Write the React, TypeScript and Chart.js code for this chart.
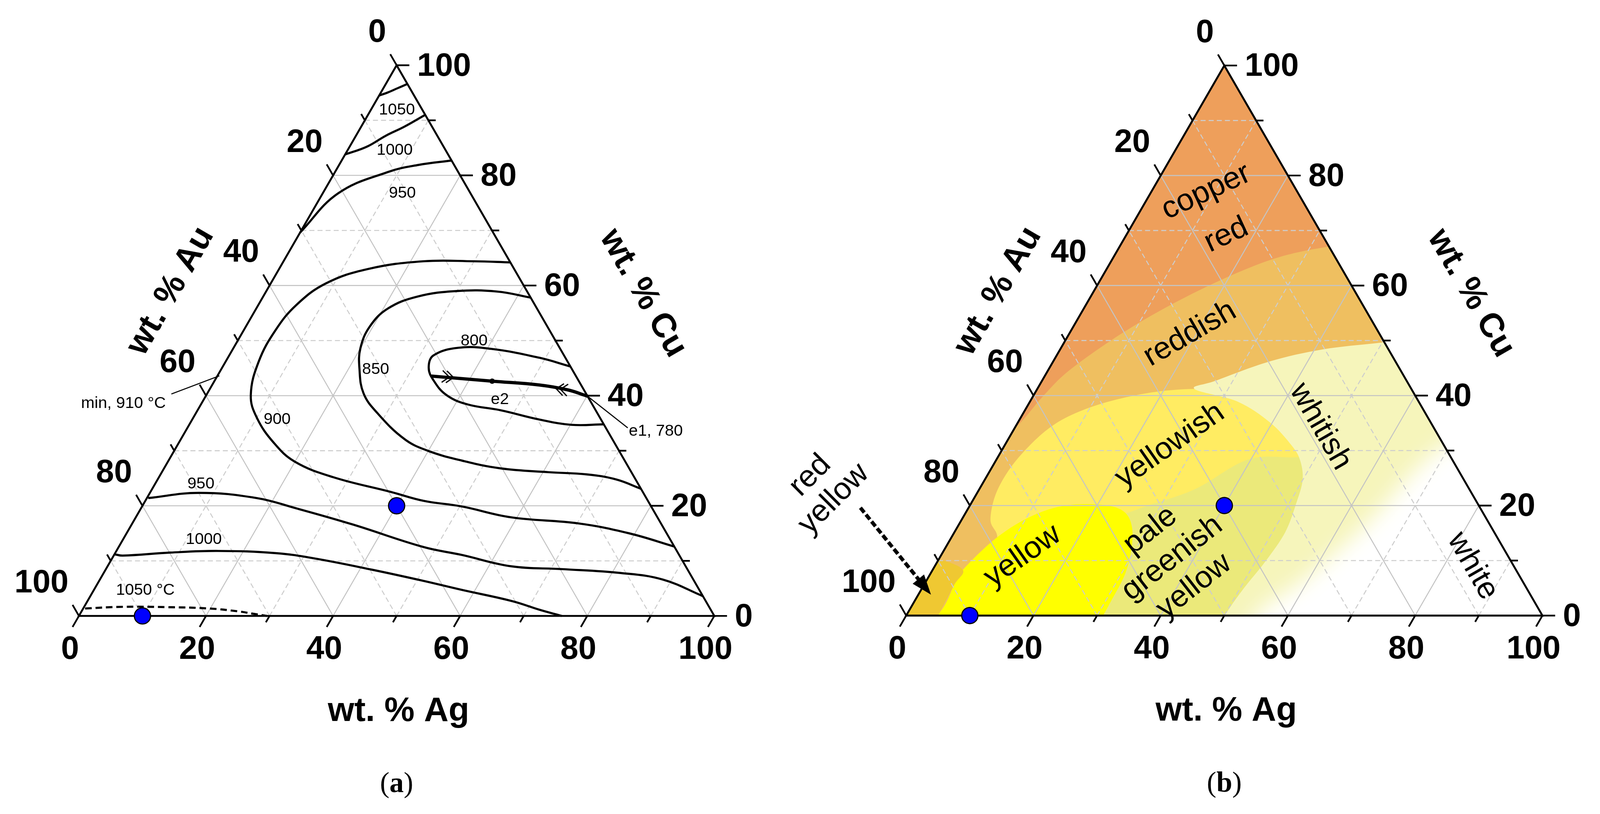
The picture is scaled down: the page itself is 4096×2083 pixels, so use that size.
import React, { useEffect, useRef } from "react";
import { Chart, registerables } from "chart.js";

Chart.register(...registerables);

type P2 = [number, number];
type Geom = { Lx: number; Ly: number; side: number; ox: number; w: number };

const S = 0.987;
const PAGE_W = 4096;
const PAGE_H = 2083;
const A_LEFT = 0;
const A_W = 2048;
const B_LEFT = 1800;
const B_W = PAGE_W - B_LEFT;
const SQ = Math.sqrt(3) / 2;
const SANS = '"Liberation Sans", Arial, Helvetica, sans-serif';
const SERIF = '"Liberation Serif", "Times New Roman", Times, serif';

// ---------- axes ----------
const TICK_STEPS = [0, 10, 20, 30, 40, 50, 60, 70, 80, 90, 100];
const TICK_LABELS = [0, 20, 40, 60, 80, 100];
const TITLE_AG = "wt. % Ag";
const TITLE_AU = "wt. % Au";
const TITLE_CU = "wt. % Cu";

// ---------- panel (a): liquidus isotherms, points as [wt.% Ag, wt.% Cu] ----------
const ISO_1050_CU: P2[] = [[0, 94.5], [1.0, 95.0], [2.2, 95.8], [3.4, 96.6]];
const ISO_1000_CU: P2[] = [[0, 83.8], [2.7, 85.2], [4.7, 87.2], [6.8, 88.85], [9.0, 91.0]];
const ISO_950_CU: P2[] = [[0, 69.6], [2.4, 76.7], [8.3, 80.6], [12.5, 81.9], [17.3, 82.7]];
const ISO_900: P2[] = [
  [35.8, 64.2], [30, 64.4], [22, 64.4], [14, 63.0], [8.7, 60.4], [6.0, 56.5], [5.0, 51.9],
  [5.2, 46.2], [7.0, 40.1], [10.0, 36.0], [15.0, 31.4], [20.0, 28.0], [27.4, 25.2],
  [37.9, 22.5], [43.8, 20.9], [50.2, 19.9], [59.1, 17.9], [70.2, 16.8], [79.1, 15.0], [87.4, 12.6],
];
const ISO_850: P2[] = [
  [42.2, 57.8], [36.4, 58.9], [30.0, 59.0], [24.3, 58.0], [20.7, 55.8], [19.5, 52.5], [20.0, 48.6],
  [21.7, 44.9], [24.6, 40.4], [28.6, 36.8], [35.2, 32.1], [39.9, 30.0], [46.2, 28.2], [52.95, 26.8],
  [60.9, 26.1], [67.1, 25.7], [72.1, 24.8], [76.9, 23.1],
];
const ISO_800: P2[] = [
  [54.7, 45.3], [48.95, 46.9], [40.6, 48.5], [35.4, 48.7], [32.15, 47.3], [32.5, 45.1], [34.4, 42.8],
  [37.8, 40.1], [42.0, 38.4], [47.7, 37.35], [54.5, 35.7], [60.2, 34.7], [65.2, 34.8],
];
const ISO_950_AG: P2[] = [
  [0.2, 21.4], [7.7, 22.35], [17.3, 21.4], [24.2, 19.6], [34.8, 16.6], [48.0, 12.5], [54.6, 11.1],
  [63.6, 9.0], [71.8, 8.5], [81.35, 7.8], [88.6, 6.6], [96.4, 3.6],
];
const ISO_1000_AG: P2[] = [
  [0, 11.2], [1.4, 10.95], [8.6, 11.5], [16.0, 11.8], [25.3, 11.4], [31.8, 10.45], [41.9, 8.4],
  [51.1, 6.35], [57.8, 4.75], [66.8, 2.7], [72.0, 1.1], [76.0, 0],
];
const ISO_1050_AU: P2[] = [[0.3, 1.35], [6.0, 1.65], [13.0, 1.6], [19.8, 1.35], [24.5, 0.85], [27.5, 0.35], [29.6, 0]];
const EUTECTIC_VALLEY: P2[] = [[33.7, 43.55], [43.72, 42.63], [51.47, 41.94], [56.47, 41.03], [60.1, 39.9]];
const E2_POINT: P2[] = [[43.72, 42.63]];
const ALLOYS: P2[] = [[40, 20], [10, 0]];

const ISO_LABELS_A = [
  { text: "1050", ag: 4.0, cu: 92.1 },
  { text: "1000", ag: 7.3, cu: 84.8 },
  { text: "950", ag: 12.4, cu: 77.0 },
  { text: "800", ag: 37.1, cu: 50.2 },
  { text: "850", ag: 24.2, cu: 45.0 },
  { text: "900", ag: 13.25, cu: 35.9 },
  { text: "950", ag: 7.1, cu: 24.2 },
  { text: "1000", ag: 12.6, cu: 14.1 },
  { text: "1050 °C", ag: 8.0, cu: 4.9 },
  { text: "e2", ag: 46.5, cu: 39.5 },
  { text: "e1, 780", ag: 73.9, cu: 33.8 },
  { text: "min, 910 °C", ag: -12.4, cu: 38.8 },
];
const LEADERS_A: P2[][] = [
  [[-5.6, 40.3], [0.3, 43.6]],
  [[60.1, 39.9], [69.3, 34.15]],
];
const CHEVRONS_A = [
  { ag: 37.3, cu: 43.3, toward: [43.72, 42.63] as P2 },
  { ag: 54.5, cu: 41.25, toward: [43.72, 42.63] as P2 },
];

// ---------- panel (b): colour fields, points as [wt.% Ag, wt.% Cu] ----------
const FIELD_BASE = "#EFBF60";
const FIELDS_B = [
  {
    name: "copper red", color: "#EE9F5B",
    curve: [[-4, 28], [0, 34], [1.6, 40], [3.6, 45], [9.2, 52.4], [16.7, 59.3], [25, 64.7], [32.9, 67.1], [40, 68]] as P2[],
    close: [[15, 120], [-30, 120]] as P2[], blur: 0,
  },
  {
    name: "yellowish", color: "#FFEC62",
    curve: [[40, 40], [24.7, 41.2], [14.1, 39.5], [6.7, 35.6], [3.5, 29.5], [2.9, 23.2], [4.5, 17.5], [7.2, 14.25], [9, 9], [12, -6]] as P2[],
    close: [[62, -6], [62, 36]] as P2[], blur: 0,
  },
  {
    name: "pale greenish yellow", color: "#EBE97A",
    curve: [[52, 30], [47.3, 28.8], [39.6, 28.4], [33.8, 22.9], [27, 19.5], [21, 16]] as P2[],
    close: [[21, -6], [60, -6], [60, 30]] as P2[], blur: 0,
  },
  {
    name: "yellow", color: "#FFFF00",
    curve: [[2.5, -6], [5.0, 0.5], [4.76, 5.55], [4.75, 8.3], [7.2, 14.25], [11, 18.3], [16, 20.15], [23.3, 19.6], [27.5, 16.0], [30.4, 8.7], [30.9, 2], [31, -6]] as P2[],
    close: [] as P2[], blur: 0,
  },
  {
    name: "red yellow", color: "#EFC832",
    curve: [[5.6, -6], [5.0, 0.5], [4.76, 5.55], [4.75, 8.3], [0, 10.2], [-6, 11]] as P2[],
    close: [[-6, -6]] as P2[], blur: 0,
  },
  {
    name: "whitish", color: "#F6F5BB",
    curve: [[56, 50.6], [50.3, 49.7], [41.3, 48.4], [34, 46.2], [27.3, 42.7], [24.7, 41.2], [32.65, 38.9], [39.65, 35.1], [45.15, 30.9], [47.9, 28.1], [50, 24.6], [51.1, 20.4], [52, 15.15], [51.55, 9.9], [50.6, 5], [50.1, 0.5], [50, -6]] as P2[],
    close: [[115, -6], [62, 52]] as P2[], blur: 0,
  },
  {
    name: "white", color: "#FFFFFF",
    curve: [[74, 34], [69.1, 30.9], [66.5, 25.6], [64.1, 16.9], [59.1, 6.4], [55.1, 0.8], [54.5, -8]] as P2[],
    close: [[120, -8], [85, 40]] as P2[], blur: 28,
  },
];
const COLOR_LABELS_B = [
  { lines: ["copper", "red"], ag: 12.1, cu: 73.2, rot: -25, lh: 124 },
  { lines: ["reddish"], ag: 18.9, cu: 51.3, rot: -30, lh: 0 },
  { lines: ["yellowish"], ag: 25.9, cu: 31.0, rot: -35, lh: 0 },
  { lines: ["whitish"], ag: 48.0, cu: 34.4, rot: 60, lh: 0 },
  { lines: ["yellow"], ag: 12.8, cu: 10.9, rot: -35, lh: 0 },
  { lines: ["pale", "greenish", "yellow"], ag: 36.5, cu: 10.5, rot: -38, lh: 92 },
  { lines: ["white"], ag: 84.6, cu: 9.05, rot: 60, lh: 0 },
  { lines: ["red", "yellow"], ag: -25, cu: 23.4, rot: -45, lh: 86 },
];
const ARROW_B: P2[] = [[-17.0, 19.6], [2.0, 3.8]];

// ---------- helpers ----------
const toXY = (p: P2) => ({ x: p[0] + p[1] / 2, y: p[1] * SQ });

function makeScales(g: Geom) {
  const lx = g.Lx - g.ox;
  const k = 100 / g.side;
  return {
    x: { type: "linear", display: false, min: -lx * k, max: (g.w / S - lx) * k },
    y: { type: "linear", display: false, min: (g.Ly - PAGE_H / S) * k, max: g.Ly * k },
  };
}

function mapper(chart: any) {
  const xs = chart.scales.x;
  const ys = chart.scales.y;
  return (ag: number, cu: number): P2 => [xs.getPixelForValue(ag + cu / 2), ys.getPixelForValue(cu * SQ)];
}

function smooth(ctx: CanvasRenderingContext2D, pts: P2[]) {
  ctx.moveTo(pts[0][0], pts[0][1]);
  for (let i = 0; i < pts.length - 1; i++) {
    const p0 = pts[Math.max(i - 1, 0)];
    const p1 = pts[i];
    const p2 = pts[i + 1];
    const p3 = pts[Math.min(i + 2, pts.length - 1)];
    ctx.bezierCurveTo(
      p1[0] + (p2[0] - p0[0]) / 6, p1[1] + (p2[1] - p0[1]) / 6,
      p2[0] - (p3[0] - p1[0]) / 6, p2[1] - (p3[1] - p1[1]) / 6,
      p2[0], p2[1]
    );
  }
}

function drawGrid(ctx: CanvasRenderingContext2D, P: (a: number, c: number) => P2) {
  ctx.save();
  for (let v = 10; v < 100; v += 10) {
    const solid = v % 20 === 0;
    ctx.strokeStyle = solid ? "#c4c4c4" : "#cdcdcd";
    ctx.lineWidth = 2.6 * S;
    ctx.setLineDash(solid ? [] : [13 * S, 8 * S]);
    const segs: [P2, P2][] = [
      [P(v, 0), P(v, 100 - v)],
      [P(0, v), P(100 - v, v)],
      [P(100 - v, 0), P(0, 100 - v)],
    ];
    for (const [a, b] of segs) {
      ctx.beginPath();
      ctx.moveTo(a[0], a[1]);
      ctx.lineTo(b[0], b[1]);
      ctx.stroke();
    }
  }
  ctx.restore();
}

function drawFrame(ctx: CanvasRenderingContext2D, P: (a: number, c: number) => P2) {
  ctx.save();
  ctx.setLineDash([]);
  ctx.strokeStyle = "#000";
  ctx.lineWidth = 5 * S;
  ctx.lineJoin = "miter";
  const a = P(0, 0), b = P(100, 0), c = P(0, 100);
  ctx.beginPath();
  ctx.moveTo(a[0], a[1]);
  ctx.lineTo(b[0], b[1]);
  ctx.lineTo(c[0], c[1]);
  ctx.closePath();
  ctx.stroke();
  ctx.lineWidth = 4.5 * S;
  const seg = (p: P2, d: P2) => {
    ctx.beginPath();
    ctx.moveTo(p[0], p[1]);
    ctx.lineTo(p[0] + d[0], p[1] + d[1]);
    ctx.stroke();
  };
  for (const v of TICK_STEPS) {
    const len = (v % 20 === 0 ? 33 : 19) * S;
    seg(P(v, 0), [-0.5 * len, SQ * len]);
    seg(P(100 - v, v), [len, 0]);
    seg(P(0, 100 - v), [-0.5 * len, -SQ * len]);
  }
  ctx.restore();
}

function drawAxisText(ctx: CanvasRenderingContext2D, P: (a: number, c: number) => P2) {
  ctx.save();
  ctx.fillStyle = "#000";
  ctx.textBaseline = "alphabetic";
  const fs = 84 * S;
  ctx.font = `bold ${fs}px ${SANS}`;
  const dy = 0.358 * fs;
  for (const v of TICK_LABELS) {
    const t = String(v);
    let [x, y] = P(v, 0);
    ctx.textAlign = "center";
    ctx.fillText(t, x - 23 * S, y + 81 * S + dy);
    [x, y] = P(100 - v, v);
    ctx.textAlign = "left";
    ctx.fillText(t, x + 53 * S, y - 3 * S + dy);
    [x, y] = P(0, 100 - v);
    ctx.textAlign = "right";
    ctx.fillText(t, x - 27 * S, y - 91 * S + dy);
  }
  const ft = 88 * S;
  ctx.font = `bold ${ft}px ${SANS}`;
  ctx.textAlign = "center";
  const [bx, by] = P(50, 0);
  ctx.fillText(TITLE_AG, bx + 5 * S, by + 272 * S);
  const [lx, ly] = P(0, 50);
  ctx.save();
  ctx.translate(lx + (-0.866 * 222 + 0.5 * 24) * S, ly + (-0.5 * 222 - 0.866 * 24) * S);
  ctx.rotate(-Math.PI / 3);
  ctx.fillText(TITLE_AU, 0, 0.36 * ft);
  ctx.restore();
  const [rx, ry] = P(50, 50);
  ctx.save();
  ctx.translate(rx + (0.866 * 265 + 0.5 * 7.5) * S, ry + (-0.5 * 265 + 0.866 * 7.5) * S);
  ctx.rotate(Math.PI / 3);
  ctx.fillText(TITLE_CU, 0, 0.36 * ft);
  ctx.restore();
  ctx.restore();
}

function drawCaption(ctx: CanvasRenderingContext2D, P: (a: number, c: number) => P2, letter: string) {
  ctx.save();
  const fs = 74 * S;
  const [cx, by] = P(50, 0);
  const y = by + 456.5 * S;
  ctx.fillStyle = "#000";
  ctx.textBaseline = "alphabetic";
  ctx.textAlign = "left";
  const fN = `${fs}px ${SERIF}`;
  const fB = `bold ${fs}px ${SERIF}`;
  ctx.font = fN;
  const wO = ctx.measureText("(").width;
  const wC = ctx.measureText(")").width;
  ctx.font = fB;
  const wL = ctx.measureText(letter).width;
  let x = cx - (wO + wL + wC) / 2;
  ctx.font = fN;
  ctx.fillText("(", x, y);
  x += wO;
  ctx.font = fB;
  ctx.fillText(letter, x, y);
  x += wL;
  ctx.font = fN;
  ctx.fillText(")", x, y);
  ctx.restore();
}

function lineDs(pts: P2[], width: number, dash?: number[]) {
  return {
    data: pts.map(toXY),
    showLine: true,
    borderColor: "#000",
    borderWidth: width * S,
    borderDash: dash ? dash.map((d) => d * S) : [],
    pointRadius: 0,
    pointHoverRadius: 0,
    tension: 0.4,
    fill: false,
  };
}

function dotsDs(pts: P2[], r: number, color: string, bw: number) {
  return {
    data: pts.map(toXY),
    showLine: false,
    pointRadius: r * S,
    pointHoverRadius: r * S,
    pointBackgroundColor: color,
    pointBorderColor: "#000",
    pointBorderWidth: bw * S,
  };
}

// ---------- plugins ----------
const decorA = {
  id: "decorA",
  beforeDatasetsDraw(chart: any) {
    const ctx = chart.ctx as CanvasRenderingContext2D;
    const P = mapper(chart);
    drawGrid(ctx, P);
    drawFrame(ctx, P);
  },
  afterDatasetsDraw(chart: any) {
    const ctx = chart.ctx as CanvasRenderingContext2D;
    const P = mapper(chart);
    ctx.save();
    ctx.fillStyle = "#000";
    const fs = 42 * S;
    ctx.font = `${fs}px ${SANS}`;
    ctx.textAlign = "center";
    ctx.textBaseline = "alphabetic";
    for (const l of ISO_LABELS_A) {
      const [x, y] = P(l.ag, l.cu);
      ctx.fillText(l.text, x, y + 0.358 * fs);
    }
    ctx.strokeStyle = "#000";
    ctx.lineWidth = 2.8 * S;
    for (const ln of LEADERS_A) {
      const a = P(ln[0][0], ln[0][1]);
      const b = P(ln[1][0], ln[1][1]);
      ctx.beginPath();
      ctx.moveTo(a[0], a[1]);
      ctx.lineTo(b[0], b[1]);
      ctx.stroke();
    }
    ctx.lineWidth = 3.2 * S;
    for (const c of CHEVRONS_A) {
      const tip = P(c.ag, c.cu);
      const to = P(c.toward[0], c.toward[1]);
      let dx = to[0] - tip[0], dy = to[1] - tip[1];
      const n = Math.hypot(dx, dy);
      dx /= n; dy /= n;
      for (let k = 0; k < 2; k++) {
        const bx = tip[0] - dx * k * 11 * S, by = tip[1] - dy * k * 11 * S;
        const arm = 24 * S, ang = (40 * Math.PI) / 180;
        const ca = Math.cos(ang), sa = Math.sin(ang);
        const a1: P2 = [bx + (-dx * ca + dy * sa) * arm, by + (-dx * sa - dy * ca) * arm];
        const a2: P2 = [bx + (-dx * ca - dy * sa) * arm, by + (dx * sa - dy * ca) * arm];
        ctx.beginPath();
        ctx.moveTo(a1[0], a1[1]);
        ctx.lineTo(bx, by);
        ctx.lineTo(a2[0], a2[1]);
        ctx.stroke();
      }
    }
    ctx.restore();
    drawAxisText(ctx, P);
    drawCaption(ctx, P, "a");
  },
};

const decorB = {
  id: "decorB",
  beforeDatasetsDraw(chart: any) {
    const ctx = chart.ctx as CanvasRenderingContext2D;
    const P = mapper(chart);
    ctx.save();
    const a = P(0, 0), b = P(100, 0), c = P(0, 100);
    ctx.beginPath();
    ctx.moveTo(a[0], a[1]);
    ctx.lineTo(b[0], b[1]);
    ctx.lineTo(c[0], c[1]);
    ctx.closePath();
    ctx.clip();
    ctx.fillStyle = FIELD_BASE;
    ctx.fillRect(0, 0, chart.width, chart.height);
    for (const f of FIELDS_B) {
      ctx.save();
      if (f.blur) ctx.filter = `blur(${f.blur * S}px)`;
      ctx.beginPath();
      smooth(ctx, f.curve.map(([ag, cu]) => P(ag, cu)));
      for (const [ag, cu] of f.close) {
        const p = P(ag, cu);
        ctx.lineTo(p[0], p[1]);
      }
      ctx.closePath();
      ctx.fillStyle = f.color;
      ctx.fill();
      ctx.restore();
    }
    ctx.restore();
    drawGrid(ctx, P);
    drawFrame(ctx, P);
  },
  afterDatasetsDraw(chart: any) {
    const ctx = chart.ctx as CanvasRenderingContext2D;
    const P = mapper(chart);
    ctx.save();
    ctx.fillStyle = "#000";
    const fs = 80 * S;
    ctx.font = `${fs}px ${SANS}`;
    ctx.textAlign = "center";
    ctx.textBaseline = "alphabetic";
    for (const l of COLOR_LABELS_B) {
      const [x, y] = P(l.ag, l.cu);
      ctx.save();
      ctx.translate(x, y);
      ctx.rotate((l.rot * Math.PI) / 180);
      const lh = l.lh * S;
      l.lines.forEach((t, i) => ctx.fillText(t, 0, (i - (l.lines.length - 1) / 2) * lh + 0.3 * fs));
      ctx.restore();
    }
    // dashed arrow
    const s0 = P(ARROW_B[0][0], ARROW_B[0][1]);
    const s1 = P(ARROW_B[1][0], ARROW_B[1][1]);
    let dx = s1[0] - s0[0], dy = s1[1] - s0[1];
    const n = Math.hypot(dx, dy);
    dx /= n; dy /= n;
    const headL = 52 * S, headW = 19 * S;
    ctx.strokeStyle = "#000";
    ctx.lineWidth = 9.5 * S;
    ctx.setLineDash([16 * S, 7 * S]);
    ctx.beginPath();
    ctx.moveTo(s0[0], s0[1]);
    ctx.lineTo(s1[0] - dx * headL * 0.8, s1[1] - dy * headL * 0.8);
    ctx.stroke();
    ctx.setLineDash([]);
    ctx.beginPath();
    ctx.moveTo(s1[0], s1[1]);
    ctx.lineTo(s1[0] - dx * headL - dy * headW, s1[1] - dy * headL + dx * headW);
    ctx.lineTo(s1[0] - dx * headL + dy * headW, s1[1] - dy * headL - dx * headW);
    ctx.closePath();
    ctx.fill();
    ctx.restore();
    drawAxisText(ctx, P);
    drawCaption(ctx, P, "b");
  },
};

const baseOptions = {
  animation: false,
  responsive: false,
  events: [],
  layout: { padding: 0 },
  plugins: { legend: { display: false }, tooltip: { enabled: false } },
};

function buildA() {
  return {
    type: "scatter",
    data: {
      datasets: [
        dotsDs(ALLOYS, 21, "#0000FF", 3),
        dotsDs(E2_POINT, 7, "#000", 0),
        lineDs(EUTECTIC_VALLEY, 8.5),
        lineDs(ISO_1050_CU, 5.5),
        lineDs(ISO_1000_CU, 5.5),
        lineDs(ISO_950_CU, 5.5),
        lineDs(ISO_900, 5.5),
        lineDs(ISO_850, 5.5),
        lineDs(ISO_800, 5.5),
        lineDs(ISO_950_AG, 5.5),
        lineDs(ISO_1000_AG, 5.5),
        lineDs(ISO_1050_AU, 5.5, [17, 10]),
      ],
    },
    options: { ...baseOptions, scales: makeScales({ Lx: 185, Ly: 1609.5, side: 1687, ox: A_LEFT / S, w: A_W }) },
    plugins: [decorA],
  };
}

function buildB() {
  return {
    type: "scatter",
    data: { datasets: [dotsDs(ALLOYS, 21, "#0000FF", 3)] },
    options: { ...baseOptions, scales: makeScales({ Lx: 2337, Ly: 1608.5, side: 1685, ox: B_LEFT / S, w: B_W }) },
    plugins: [decorB],
  };
}

function Panel({ which }: { which: "a" | "b" }) {
  const ref = useRef<HTMLCanvasElement>(null);
  const left = which === "a" ? A_LEFT : B_LEFT;
  const w = which === "a" ? A_W : B_W;
  useEffect(() => {
    const cfg: any = which === "a" ? buildA() : buildB();
    const chart = new Chart(ref.current as HTMLCanvasElement, cfg);
    return () => chart.destroy();
  }, [which]);
  return (
    <canvas
      ref={ref}
      width={w}
      height={PAGE_H}
      style={{ position: "absolute", top: 0, left, width: w, height: PAGE_H }}
    />
  );
}

export default function App() {
  return (
    <div style={{ position: "absolute", left: 0, top: 0, width: PAGE_W, height: PAGE_H, background: "#fff" }}>
      <Panel which="a" />
      <Panel which="b" />
    </div>
  );
}
